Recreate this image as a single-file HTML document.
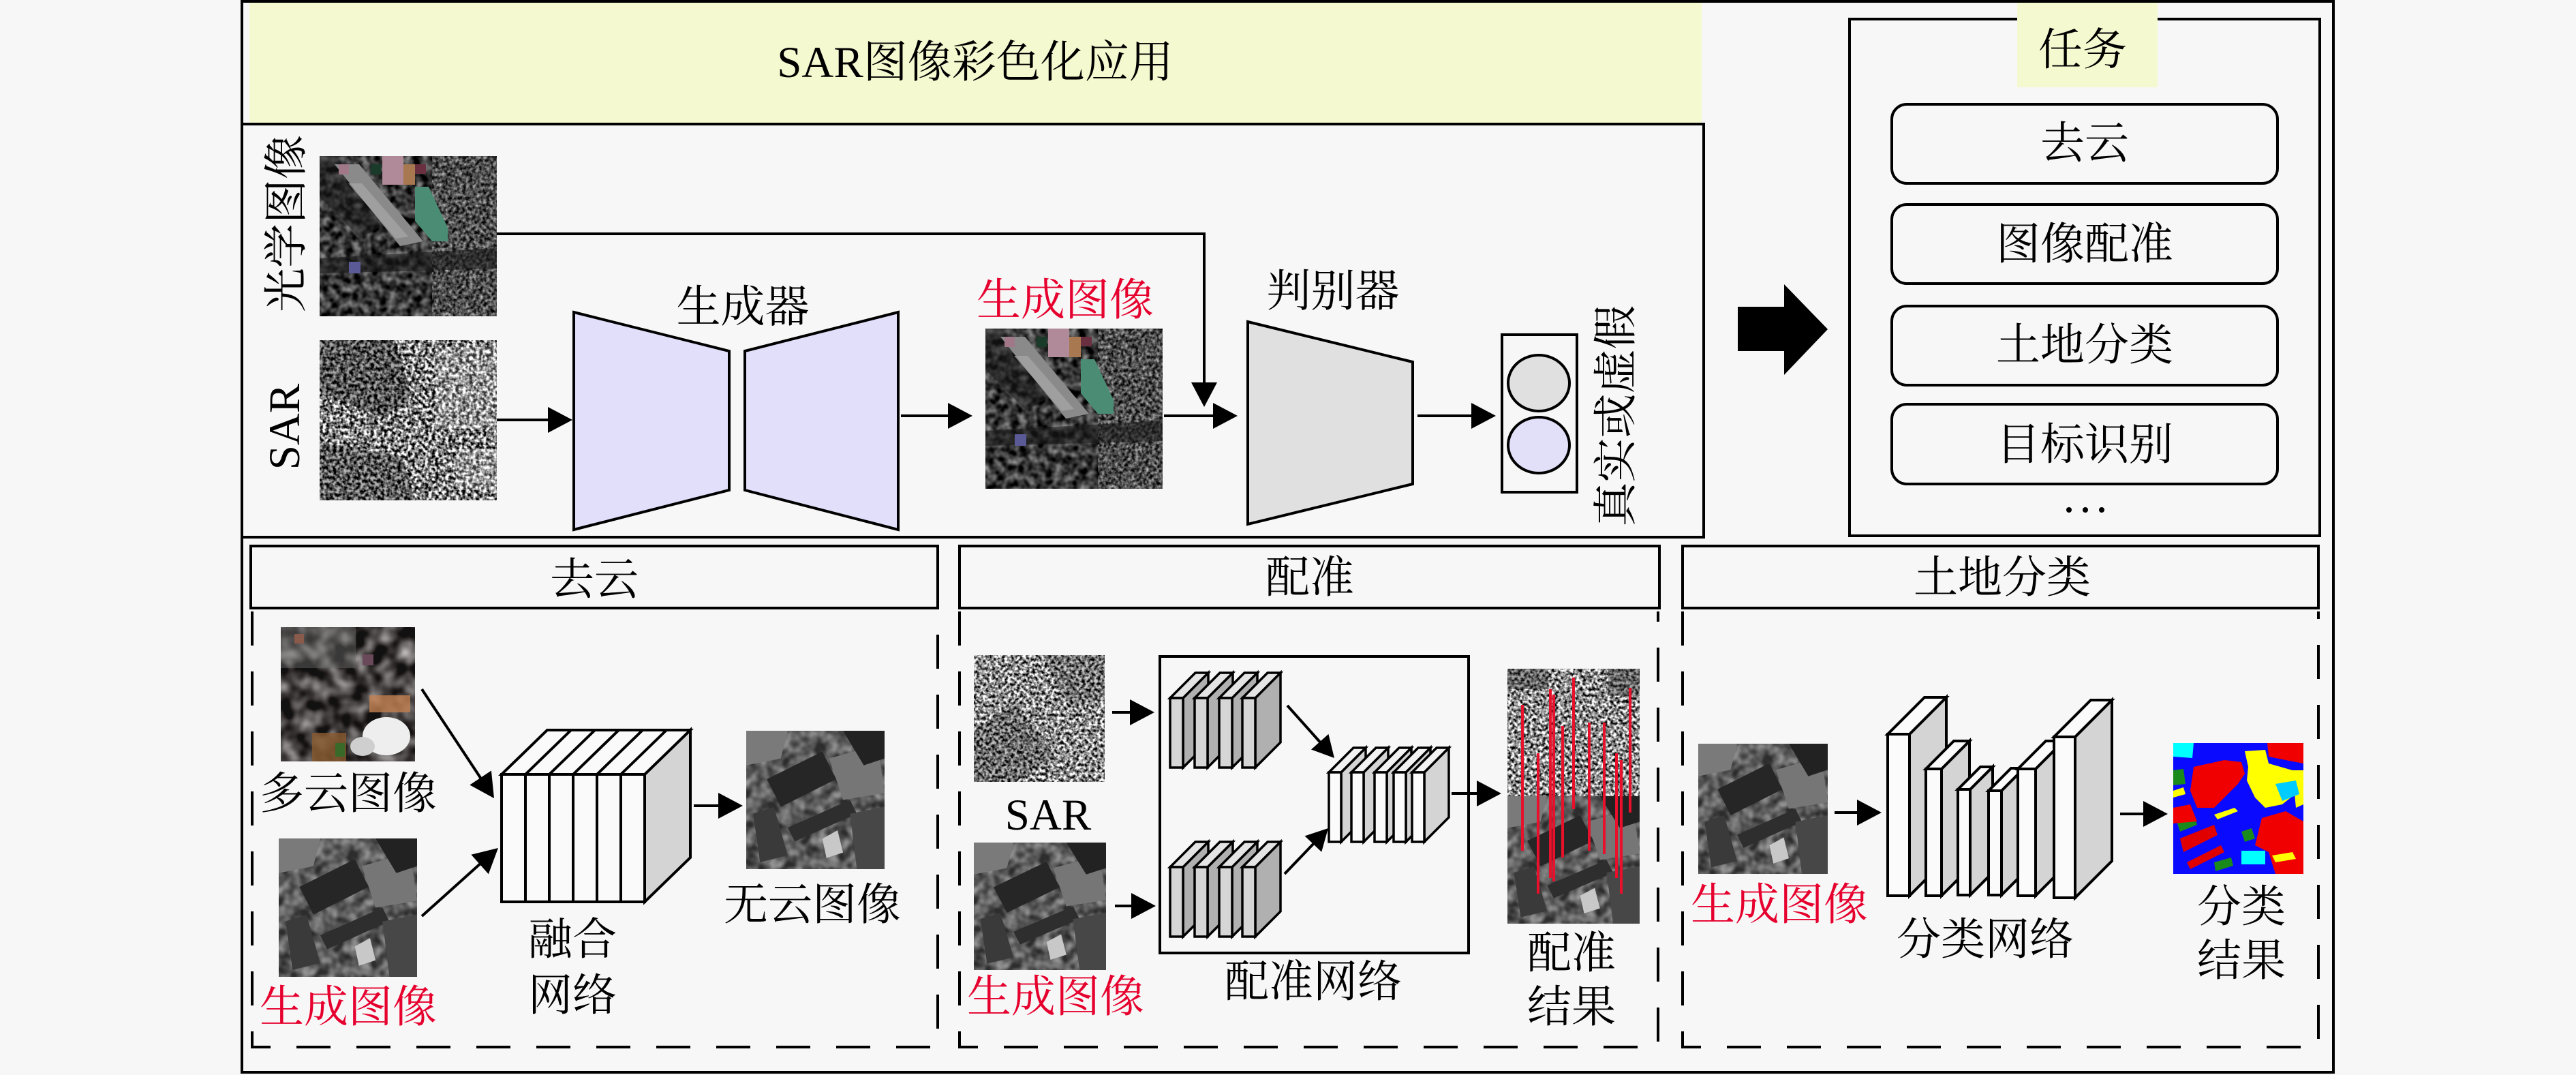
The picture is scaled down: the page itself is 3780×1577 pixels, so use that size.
<!DOCTYPE html>
<html><head><meta charset="utf-8">
<style>
html,body{margin:0;padding:0;background:#f7f7f7;}
svg{display:block;}
text{font-family:"Liberation Serif","Noto Serif CJK SC",serif;font-size:65px;fill:#000;}
.r{fill:#e6002e;}
</style></head><body>
<svg width="3780" height="1577" viewBox="0 0 3780 1577" xmlns="http://www.w3.org/2000/svg" xmlns:xlink="http://www.w3.org/1999/xlink">
<defs>
 <filter id="sar" x="0" y="0" width="1" height="1" color-interpolation-filters="sRGB">
  <feTurbulence type="fractalNoise" baseFrequency="0.2" numOctaves="2" seed="3"/>
  <feColorMatrix type="matrix" values="2.6 0 0 0 -0.8  2.6 0 0 0 -0.8  2.6 0 0 0 -0.8  0 0 0 0 1"/>
 </filter>
 <filter id="sar2" x="0" y="0" width="1" height="1" color-interpolation-filters="sRGB">
  <feTurbulence type="fractalNoise" baseFrequency="0.22" numOctaves="2" seed="7"/>
  <feColorMatrix type="matrix" values="2.4 0 0 0 -0.65  2.4 0 0 0 -0.65  2.4 0 0 0 -0.65  0 0 0 0 1"/>
 </filter>
 <filter id="dk" x="0" y="0" width="1" height="1" color-interpolation-filters="sRGB">
  <feTurbulence type="fractalNoise" baseFrequency="0.08" numOctaves="2" seed="5"/>
  <feColorMatrix type="matrix" values="1.0 0 0 0 -0.28  1.0 0 0 0 -0.28  1.0 0 0 0 -0.28  0 0 0 0 1"/>
 </filter>
 <filter id="md" x="0" y="0" width="1" height="1" color-interpolation-filters="sRGB">
  <feTurbulence type="fractalNoise" baseFrequency="0.2" numOctaves="2" seed="9"/>
  <feColorMatrix type="matrix" values="1.6 0 0 0 -0.47  1.6 0 0 0 -0.47  1.6 0 0 0 -0.47  0 0 0 0 1"/>
 </filter>
 <filter id="gn" x="0" y="0" width="1" height="1" color-interpolation-filters="sRGB">
  <feTurbulence type="fractalNoise" baseFrequency="0.12" numOctaves="2" seed="11"/>
  <feColorMatrix type="matrix" values="1.5 0 0 0 -0.4  1.5 0 0 0 -0.4  1.5 0 0 0 -0.4  0 0 0 0 1"/>
 </filter>
 <filter id="cl" x="0" y="0" width="1" height="1" color-interpolation-filters="sRGB">
  <feTurbulence type="fractalNoise" baseFrequency="0.04" numOctaves="2" seed="2"/>
  <feColorMatrix type="matrix" values="1.6 0 0 0 -0.52  1.6 0 0 0 -0.54  1.6 0 0 0 -0.54  0 0 0 0 1"/>
 </filter>

 <g id="opt">
  <rect width="260" height="235" filter="url(#dk)"/>
  <rect x="165" y="0" width="95" height="235" filter="url(#md)" opacity="0.75"/>
  <polygon points="0,0 25,0 95,100 60,120 0,60" fill="#1e1e1e" opacity="0.55"/>
  <polygon points="22,12 58,12 152,125 118,132" fill="#8a8a8a"/>
  <polygon points="42,40 62,40 130,118 112,121" fill="#a8a8a8" opacity="0.7"/>
  <rect x="92" y="0" width="31" height="42" fill="#b08a98"/>
  <rect x="28" y="12" width="15" height="15" fill="#a07888"/>
  <rect x="123" y="12" width="17" height="30" fill="#a87850"/>
  <rect x="140" y="12" width="16" height="14" fill="#6a3040"/>
  <rect x="75" y="12" width="15" height="15" fill="#1a3a2a"/>
  <polygon points="140,45 160,45 188,105 188,125 165,125 140,95" fill="#4a8c74"/>
  <polygon points="0,150 260,135 260,165 0,172" fill="#1a1a1a" opacity="0.6"/>
  <rect x="43" y="155" width="17" height="17" fill="#5a5a96"/>
 </g>

 <g id="sarimg">
  <rect width="260" height="235" filter="url(#sar)"/>
  <polygon points="0,0 110,0 135,80 95,115 0,75" fill="#000" opacity="0.35"/>
  <rect x="170" y="10" width="90" height="120" fill="#fff" opacity="0.2"/>
  <polygon points="0,150 120,170 140,235 0,235" fill="#000" opacity="0.3"/>
  <rect x="200" y="160" width="60" height="60" fill="#fff" opacity="0.22"/>
 </g>

 <g id="opt2">
  <rect width="100" height="100" fill="#5c5c5c"/>
  <rect width="100" height="100" filter="url(#gn)" opacity="0.5"/>
  <polygon points="0,0 30,0 25,20 0,25" fill="#7a7a7a"/>
  <polygon points="60,20 95,10 100,45 70,50" fill="#767676"/>
  <polygon points="15,35 55,15 65,35 25,55" fill="#262626"/>
  <polygon points="70,0 100,0 100,20 85,25" fill="#222"/>
  <polygon points="30,70 75,50 80,60 35,80" fill="#2e2e2e"/>
  <polygon points="5,60 20,55 30,90 10,95" fill="#3a3a3a"/>
  <polygon points="75,60 100,55 100,100 80,100" fill="#474747"/>
  <polygon points="55,78 66,72 70,88 58,92" fill="#c8c8c8"/>
 </g>

 <g id="g1" stroke="#000" stroke-width="3.5" stroke-linejoin="miter">
  <polygon points="1736,1024 1773,987 1773,1089 1736,1126" fill="#b0b0b0"/>
  <polygon points="1717,1024 1736,1024 1773,987 1754,987" fill="#e4e4e4"/>
  <rect x="1717" y="1024" width="19" height="102" fill="#d6d6d6"/>
  <polygon points="1772,1024 1809,987 1809,1089 1772,1126" fill="#b0b0b0"/>
  <polygon points="1753,1024 1772,1024 1809,987 1790,987" fill="#e4e4e4"/>
  <rect x="1753" y="1024" width="19" height="102" fill="#d6d6d6"/>
  <polygon points="1808,1024 1845,987 1845,1089 1808,1126" fill="#b0b0b0"/>
  <polygon points="1789,1024 1808,1024 1845,987 1826,987" fill="#e4e4e4"/>
  <rect x="1789" y="1024" width="19" height="102" fill="#d6d6d6"/>
  <polygon points="1842,1024 1879,987 1879,1089 1842,1126" fill="#b0b0b0"/>
  <polygon points="1823,1024 1842,1024 1879,987 1860,987" fill="#e4e4e4"/>
  <rect x="1823" y="1024" width="19" height="102" fill="#d6d6d6"/>
 </g>
</defs>

<rect width="3780" height="1577" fill="#f7f7f7"/>

<!-- top yellow header -->
<rect x="366" y="4" width="2131" height="176" fill="#f5f9d0"/>
<text x="1431" y="113" font-size="66" text-anchor="middle">SAR图像彩色化应用</text>

<!-- GAN panel -->
<rect x="355" y="182" width="2145" height="606" fill="none" stroke="#000" stroke-width="4"/>

<!-- outer frame -->
<rect x="355" y="2" width="3069" height="1571" fill="none" stroke="#000" stroke-width="4"/>

<!-- GAN content -->
<use xlink:href="#opt" x="469" y="229"/>
<use xlink:href="#sarimg" x="469" y="499"/>
<text x="417" y="353" text-anchor="middle" transform="rotate(-90 417 328)">光学图像</text>
<text x="417" y="648" font-size="68" text-anchor="middle" transform="rotate(-90 417 626)">SAR</text>

<g stroke="#000" stroke-width="4" fill="none">
 <line x1="729" y1="616" x2="810" y2="616"/>
 <line x1="1322" y1="610" x2="1398" y2="610"/>
 <line x1="1708" y1="610" x2="1786" y2="610"/>
 <line x1="2080" y1="610" x2="2165" y2="610"/>
 <path d="M729,343 H1767 V570"/>
</g>
<g fill="#000">
 <polygon points="840,616 804,597 804,635"/>
 <polygon points="1427,610 1391,591 1391,629"/>
 <polygon points="1816,610 1780,591 1780,629"/>
 <polygon points="2195,610 2159,591 2159,629"/>
 <polygon points="1767,597 1748,561 1786,561"/>
</g>

<polygon points="842,458 1070,515 1070,719 842,777" fill="#e1dffa" stroke="#000" stroke-width="4"/>
<polygon points="1093,515 1318,458 1318,777 1093,719" fill="#e1dffa" stroke="#000" stroke-width="4"/>
<text x="1090" y="472" text-anchor="middle">生成器</text>

<use xlink:href="#opt" x="1446" y="482"/>
<text x="1563" y="462" text-anchor="middle" class="r">生成图像</text>

<polygon points="1831,472 2073,531 2073,710 1831,769" fill="#e0e0e0" stroke="#000" stroke-width="4"/>
<text x="1956" y="449" text-anchor="middle">判别器</text>

<rect x="2204" y="491" width="110" height="231" fill="none" stroke="#000" stroke-width="4"/>
<ellipse cx="2258" cy="562" rx="45" ry="41" fill="#e0e0e0" stroke="#000" stroke-width="4"/>
<ellipse cx="2258" cy="653" rx="45" ry="41" fill="#e2e0f8" stroke="#000" stroke-width="4"/>
<text x="2368" y="635" text-anchor="middle" transform="rotate(-90 2368 610)">真实或虚假</text>

<!-- big arrow -->
<polygon points="2550,450 2618,450 2618,417 2682,483 2618,550 2618,515 2550,515" fill="#000"/>

<!-- task box -->
<rect x="2714" y="28" width="690" height="758" fill="none" stroke="#000" stroke-width="4"/>
<rect x="2960" y="4" width="206" height="124" fill="#f5f9d0"/>
<text x="3056" y="95" text-anchor="middle">任务</text>
<g fill="none" stroke="#000" stroke-width="4">
 <rect x="2776" y="153" width="566" height="116" rx="22"/>
 <rect x="2776" y="300" width="566" height="116" rx="22"/>
 <rect x="2776" y="449" width="566" height="116" rx="22"/>
 <rect x="2776" y="593" width="566" height="117" rx="22"/>
</g>
<text x="3059" y="232" text-anchor="middle">去云</text>
<text x="3059" y="380" text-anchor="middle">图像配准</text>
<text x="3059" y="528" text-anchor="middle">土地分类</text>
<text x="3059" y="674" text-anchor="middle">目标识别</text>
<circle cx="3036" cy="748" r="4"/><circle cx="3060" cy="748" r="4"/><circle cx="3084" cy="748" r="4"/>

<!-- section headers -->
<g fill="none" stroke="#000" stroke-width="4">
 <rect x="368" y="801" width="1008" height="91"/>
 <rect x="1408" y="801" width="1027" height="91"/>
 <rect x="2469" y="801" width="933" height="91"/>
</g>
<text x="872" y="872" text-anchor="middle">去云</text>
<text x="1922" y="869" text-anchor="middle">配准</text>
<text x="2938" y="869" text-anchor="middle">土地分类</text>

<!-- dashed regions -->
<g fill="none" stroke="#000" stroke-width="4" stroke-dasharray="50 38">
 <path d="M370,897 V1536 H1376 V897"/>
 <path d="M1408,897 V1536 H2433 V897"/>
 <path d="M2469,897 V1536 H3402 V897"/>
</g>

<!-- 去云 panel -->
<g transform="translate(412,920)">
 <rect width="197" height="197" fill="#3e3a3a"/>
 <rect width="197" height="197" filter="url(#cl)" opacity="0.7"/>
 <rect x="0" y="0" width="110" height="60" fill="#6a6a6a" opacity="0.45"/>
 <rect x="20" y="10" width="14" height="14" fill="#8a5a4a"/>
 <rect x="120" y="40" width="16" height="16" fill="#6a4a5a"/>
 <rect x="130" y="100" width="60" height="25" fill="#c08050" opacity="0.8"/>
 <rect x="46" y="155" width="50" height="42" fill="#8a5a30" opacity="0.8"/>
 <ellipse cx="155" cy="160" rx="35" ry="28" fill="#eeeeee"/>
 <ellipse cx="120" cy="175" rx="18" ry="14" fill="#cfcfcf"/>
 <rect x="80" y="170" width="14" height="20" fill="#3a6a2a"/>
</g>
<text x="511" y="1186" text-anchor="middle">多云图像</text>
<use xlink:href="#opt2" transform="translate(409,1230) scale(2.03)"/>
<text x="511" y="1499" text-anchor="middle" class="r">生成图像</text>

<g stroke="#000" stroke-width="4">
 <line x1="619" y1="1011" x2="707" y2="1144"/>
 <line x1="619" y1="1344" x2="707" y2="1265"/>
</g>
<polygon points="725,1171 689.3,1151.5 720.9,1130.5" fill="#000"/>
<polygon points="731,1244 716.8,1282.2 691.4,1253.8" fill="#000"/>

<!-- cube -->
<g stroke="#000" stroke-width="4" stroke-linejoin="miter">
 <polygon points="946,1136 1013,1071 1013,1258 946,1323" fill="#d4d4d4"/>
 <polygon points="736,1136 946,1136 1013,1071 803,1071" fill="#fafafa"/>
 <rect x="736" y="1136" width="210" height="187" fill="#fafafa"/>
 <line x1="771" y1="1136" x2="771" y2="1323"/>
 <line x1="806" y1="1136" x2="806" y2="1323"/>
 <line x1="841" y1="1136" x2="841" y2="1323"/>
 <line x1="876" y1="1136" x2="876" y2="1323"/>
 <line x1="911" y1="1136" x2="911" y2="1323"/>
 <line x1="771" y1="1136" x2="838" y2="1071"/>
 <line x1="806" y1="1136" x2="873" y2="1071"/>
 <line x1="841" y1="1136" x2="908" y2="1071"/>
 <line x1="876" y1="1136" x2="943" y2="1071"/>
 <line x1="911" y1="1136" x2="978" y2="1071"/>
</g>
<text x="840" y="1400" text-anchor="middle">融合</text>
<text x="840" y="1482" text-anchor="middle">网络</text>

<line x1="1018" y1="1182" x2="1060" y2="1182" stroke="#000" stroke-width="4"/>
<polygon points="1090,1182 1054,1163 1054,1201" fill="#000"/>
<use xlink:href="#opt2" transform="translate(1095,1072) scale(2.03)"/>
<text x="1192" y="1349" text-anchor="middle">无云图像</text>

<!-- 配准 panel -->
<g transform="translate(1429,961)">
 <rect width="192" height="186" filter="url(#sar2)"/>
 <polygon points="0,110 60,70 120,150 60,186 0,186" fill="#000" opacity="0.25"/>
 <polygon points="100,0 192,0 192,60 140,80" fill="#000" opacity="0.2"/>
</g>
<text x="1538" y="1217" font-size="69" text-anchor="middle">SAR</text>
<use xlink:href="#opt2" transform="translate(1429,1236) scale(1.94,1.87)"/>
<text x="1549" y="1484" text-anchor="middle" class="r">生成图像</text>

<g stroke="#000" stroke-width="4">
 <line x1="1632" y1="1045" x2="1664" y2="1045"/>
 <line x1="1636" y1="1329" x2="1666" y2="1329"/>
</g>
<polygon points="1694,1045 1658,1026 1658,1064" fill="#000"/>
<polygon points="1696,1329 1660,1310 1660,1348" fill="#000"/>

<rect x="1702" y="963" width="453" height="435" fill="none" stroke="#000" stroke-width="4"/>
<use xlink:href="#g1"/>
<use xlink:href="#g1" y="248"/>

<g stroke="#000" stroke-width="3.5">
 <polygon points="1968,1133 2004,1097 2004,1199 1968,1235" fill="#d4d4d4"/>
 <polygon points="1950,1133 1968,1133 2004,1097 1986,1097" fill="#f2f2f2"/>
 <rect x="1950" y="1133" width="18" height="102" fill="#fbfbfb"/>
 <polygon points="2001,1133 2037,1097 2037,1199 2001,1235" fill="#d4d4d4"/>
 <polygon points="1983,1133 2001,1133 2037,1097 2019,1097" fill="#f2f2f2"/>
 <rect x="1983" y="1133" width="18" height="102" fill="#fbfbfb"/>
 <polygon points="2035,1133 2071,1097 2071,1199 2035,1235" fill="#d4d4d4"/>
 <polygon points="2017,1133 2035,1133 2071,1097 2053,1097" fill="#f2f2f2"/>
 <rect x="2017" y="1133" width="18" height="102" fill="#fbfbfb"/>
 <polygon points="2063,1133 2099,1097 2099,1199 2063,1235" fill="#d4d4d4"/>
 <polygon points="2045,1133 2063,1133 2099,1097 2081,1097" fill="#f2f2f2"/>
 <rect x="2045" y="1133" width="18" height="102" fill="#fbfbfb"/>
 <polygon points="2090,1133 2126,1097 2126,1199 2090,1235" fill="#d4d4d4"/>
 <polygon points="2072,1133 2090,1133 2126,1097 2108,1097" fill="#f2f2f2"/>
 <rect x="2072" y="1133" width="18" height="102" fill="#fbfbfb"/>
</g>

<g stroke="#000" stroke-width="4">
 <line x1="1889" y1="1035" x2="1940" y2="1092"/>
 <line x1="1885" y1="1282" x2="1930" y2="1235"/>
 <line x1="2130" y1="1164" x2="2172" y2="1164"/>
</g>
<polygon points="1958,1112 1924,1099.5 1949.4,1076.9" fill="#000"/>
<polygon points="1949,1215 1939.2,1249.8 1914.6,1226.4" fill="#000"/>
<polygon points="2203,1164 2167,1145 2167,1183" fill="#000"/>
<text x="1927" y="1462" text-anchor="middle">配准网络</text>

<!-- registration result -->
<g>
 <rect x="2212" y="981" width="194" height="187" filter="url(#sar2)"/>
 <rect x="2212" y="981" width="60" height="30" fill="#222" opacity="0.4"/>
 <rect x="2360" y="981" width="46" height="40" fill="#222" opacity="0.4"/>
 <use xlink:href="#opt2" transform="translate(2212,1168) scale(1.94,1.87)"/>
 <g stroke="#e8102a" stroke-width="4">
  <line x1="2234" y1="1034" x2="2234" y2="1248"/>
  <line x1="2257" y1="1105" x2="2257" y2="1311"/>
  <line x1="2275" y1="1011" x2="2275" y2="1288"/>
  <line x1="2280" y1="1019" x2="2280" y2="1293"/>
  <line x1="2293" y1="1065" x2="2293" y2="1258"/>
  <line x1="2309" y1="994" x2="2309" y2="1187"/>
  <line x1="2332" y1="1060" x2="2332" y2="1248"/>
  <line x1="2354" y1="1060" x2="2354" y2="1253"/>
  <line x1="2372" y1="1105" x2="2372" y2="1288"/>
  <line x1="2379" y1="1115" x2="2379" y2="1311"/>
  <line x1="2392" y1="1009" x2="2392" y2="1192"/>
 </g>
</g>
<text x="2306" y="1420" text-anchor="middle">配准</text>
<text x="2306" y="1499" text-anchor="middle">结果</text>

<!-- 土地分类 panel -->
<use xlink:href="#opt2" transform="translate(2492,1091) scale(1.9,1.91)"/>
<text x="2611" y="1349" text-anchor="middle" class="r">生成图像</text>
<line x1="2692" y1="1192" x2="2731" y2="1192" stroke="#000" stroke-width="4"/>
<polygon points="2761,1192 2725,1173 2725,1211" fill="#000"/>

<g stroke="#000" stroke-width="4" stroke-linejoin="miter">
 <polygon points="2802,1077 2856,1023 2856,1260 2802,1314" fill="#d4d4d4"/>
 <polygon points="2770,1077 2802,1077 2856,1023 2824,1023" fill="#fbfbfb"/>
 <rect x="2770" y="1077" width="32" height="237" fill="#fbfbfb"/>
 <polygon points="2849,1128 2890,1087 2890,1273 2849,1314" fill="#d4d4d4"/>
 <polygon points="2826,1128 2849,1128 2890,1087 2867,1087" fill="#fbfbfb"/>
 <rect x="2826" y="1128" width="23" height="186" fill="#fbfbfb"/>
 <polygon points="2891,1158 2924,1125 2924,1280 2891,1313" fill="#d4d4d4"/>
 <polygon points="2873,1158 2891,1158 2924,1125 2906,1125" fill="#fbfbfb"/>
 <rect x="2873" y="1158" width="18" height="155" fill="#fbfbfb"/>
 <polygon points="2937,1160 2970,1127 2970,1280 2937,1313" fill="#d4d4d4"/>
 <polygon points="2918,1160 2937,1160 2970,1127 2951,1127" fill="#fbfbfb"/>
 <rect x="2918" y="1160" width="19" height="153" fill="#fbfbfb"/>
 <polygon points="2987,1128 3028,1087 3028,1273 2987,1314" fill="#d4d4d4"/>
 <polygon points="2961,1128 2987,1128 3028,1087 3002,1087" fill="#fbfbfb"/>
 <rect x="2961" y="1128" width="26" height="186" fill="#fbfbfb"/>
 <polygon points="3045,1081 3099,1027 3099,1263 3045,1317" fill="#d4d4d4"/>
 <polygon points="3014,1081 3045,1081 3099,1027 3068,1027" fill="#fbfbfb"/>
 <rect x="3014" y="1081" width="31" height="236" fill="#fbfbfb"/>
</g>
<text x="2913" y="1400" text-anchor="middle">分类网络</text>

<line x1="3111" y1="1194" x2="3151" y2="1194" stroke="#000" stroke-width="4"/>
<polygon points="3181,1194 3145,1175 3145,1213" fill="#000"/>

<!-- classification result -->
<g transform="translate(3189,1090)">
 <rect width="191" height="192" fill="#0a0aff"/>
 <polygon points="0,0 30,0 28,22 0,20" fill="#00ffff"/>
 <polygon points="0,40 15,38 18,60 0,62" fill="#1a8a1a"/>
 <polygon points="0,70 15,65 18,75 0,80" fill="#ffff00"/>
 <polygon points="30,35 75,25 100,28 105,45 95,60 60,95 35,95 25,70" fill="#f00000"/>
 <polygon points="105,12 135,10 140,30 175,40 185,70 160,90 135,95 120,80 108,55 110,35" fill="#ffff00"/>
 <polygon points="138,0 191,0 191,30 165,25 140,20" fill="#f00000"/>
 <polygon points="175,40 191,40 191,90 180,95" fill="#ffff00"/>
 <polygon points="150,60 180,55 185,75 160,85" fill="#00ccff"/>
 <polygon points="130,110 165,100 191,115 191,192 150,192 140,160 120,150" fill="#f00000"/>
 <polygon points="145,165 175,160 180,170 150,175" fill="#ffff00"/>
 <polygon points="10,140 60,120 65,135 15,160" fill="#e00000"/>
 <polygon points="20,175 70,150 75,160 25,185" fill="#e00000"/>
 <polygon points="5,115 30,105 35,120 10,130" fill="#1a8a1a"/>
 <polygon points="100,130 115,125 120,140 105,145" fill="#1a8a1a"/>
 <polygon points="60,175 85,168 88,180 62,188" fill="#1a8a1a"/>
 <polygon points="60,105 90,95 95,100 65,112" fill="#ffff00"/>
 <polygon points="100,158 135,158 135,178 100,178" fill="#00ffff"/>
 <polygon points="0,95 25,90 35,115 0,118" fill="#f00000"/>
</g>
<text x="3289" y="1352" text-anchor="middle">分类</text>
<text x="3289" y="1431" text-anchor="middle">结果</text>

</svg>
</body></html>
